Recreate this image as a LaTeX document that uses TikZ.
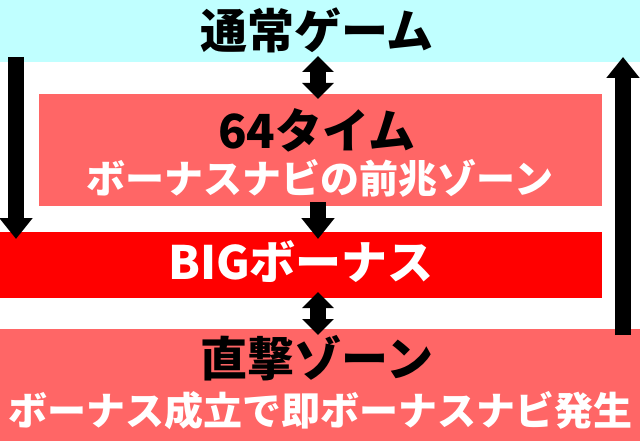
\documentclass[tikz,border=0pt]{standalone}
\usepackage{fontspec}
\usetikzlibrary{arrows.meta}
\newfontfamily\jpfont{Noto Sans CJK JP}
\definecolor{normalcyan}{HTML}{C0FFFF}
\definecolor{zonepink}{HTML}{FF6666}
\definecolor{bigred}{HTML}{FF0000}
\tikzset{
  band/.style={rectangle, inner sep=0pt, outer sep=0pt},
  titletext/.style={font=\jpfont\bfseries\fontsize{47}{50}\selectfont},
  notetext/.style={font=\jpfont\bfseries\fontsize{39}{42}\selectfont, text=white},
  bigtext/.style={font=\jpfont\bfseries\fontsize{46}{49}\selectfont, text=white},
  fatarrow/.style={line width=16pt, -{Triangle[length=21pt,width=32pt]}},
  fatdouble/.style={line width=16pt, {Triangle[length=16pt,width=31pt]}-{Triangle[length=16pt,width=31pt]}},
}

\begin{document}
\begin{tikzpicture}[x=1pt,y=-1pt]
  \useasboundingbox (0,0) rectangle (640,441);

  % bands
  \node[band, fill=normalcyan, minimum width=640pt, minimum height=62pt] (normal) at (320,31) {};
  \node[band, fill=zonepink, minimum width=563pt, minimum height=112pt] (pre) at (320.5,150) {};
  \node[band, fill=bigred, minimum width=602pt, minimum height=66pt] (big) at (301,265) {};
  \node[band, fill=zonepink, minimum width=640pt, minimum height=112pt] (direct) at (320,385) {};

  % arrows
  \draw[fatdouble, shorten <=-6pt, shorten >=-5pt] ([xshift=-2pt]normal.south) -- ([xshift=-2pt]normal.south |- pre.north);
  \draw[fatarrow, shorten <=-4pt, shorten >=-7pt] ([xshift=-2.5pt]pre.south) -- ([xshift=-2.5pt]pre.south |- big.north);
  \draw[fatdouble, shorten <=-6pt, shorten >=-6pt] ([xshift=17pt]big.south) -- ([xshift=17pt]big.south |- direct.north);
  \draw[fatarrow, shorten <=-5pt, shorten >=-7pt] ([xshift=16pt]normal.south west) -- ([xshift=16pt]normal.south west |- big.north);
  \draw[fatarrow, shorten <=-6pt, shorten >=-5pt] ([xshift=-17pt]direct.north east) -- ([xshift=-17pt]direct.north east |- normal.south);

  % labels
  \node[titletext] (normalname) at (317,30) {通常ゲーム};
  \node[titletext] (prename) at (317,130) {64タイム};
  \node[notetext] (prenote) at (320,178) {ボーナスナビの前兆ゾーン};
  \node[bigtext] (bigname) at (301,262) {BIGボーナス};
  \node[titletext] (directname) at (317,358) {直撃ゾーン};
  \node[notetext] (directnote) at (321,411) {ボーナス成立で即ボーナスナビ発生};
\end{tikzpicture}
\end{document}
